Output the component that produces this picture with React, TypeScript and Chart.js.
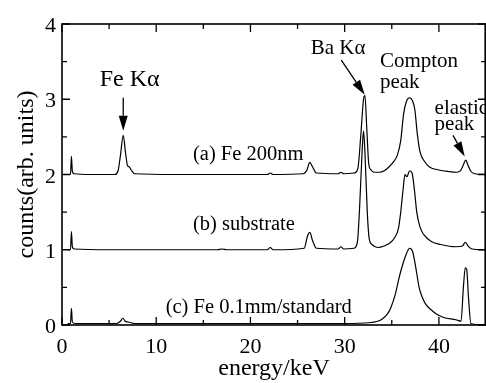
import React, { useEffect, useRef } from "react";
import { Chart, registerables } from "chart.js";

Chart.register(...registerables);

// ---- data (energy in keV, counts in arb. units, each spectrum offset) ----
const energyA = [0.6, 0.9, 1.0, 1.1, 1.3, 3, 5.6, 5.95, 6.2, 6.5, 6.75, 6.95, 7.15, 7.35, 7.7, 12, 18, 21.8, 22.1, 22.4, 25.6, 26.0, 26.3, 26.6, 27.0, 29.3, 29.6, 29.9, 31.0, 31.4, 31.7, 32.0, 32.15, 32.35, 32.55, 32.8, 33.2, 33.7, 34.2, 34.7, 35.2, 35.6, 35.95, 36.25, 36.55, 36.9, 37.2, 37.45, 37.7, 38.0, 38.5, 39.0, 40.0, 41.0, 41.9, 42.3, 42.6, 42.85, 43.1, 43.4, 43.8, 45];
const countsA = [2.0, 2.0, 2.24, 2.04, 2.01, 2.0, 2.0, 2.05, 2.25, 2.52, 2.28, 2.12, 2.1, 2.06, 2.01, 2.0, 2.0, 2.0, 2.02, 2.0, 2.01, 2.06, 2.16, 2.1, 2.02, 2.01, 2.03, 2.01, 2.02, 2.08, 2.5, 3.0, 3.05, 2.6, 2.15, 2.06, 2.03, 2.03, 2.05, 2.1, 2.17, 2.26, 2.45, 2.8, 2.97, 3.02, 2.98, 2.86, 2.55, 2.3, 2.17, 2.1, 2.06, 2.04, 2.03, 2.05, 2.13, 2.19, 2.12, 2.04, 2.01, 2.0];

const energyB = [0.6, 0.9, 1.0, 1.1, 1.3, 5, 10, 16.5, 17, 17.5, 21.8, 22.1, 22.4, 25.7, 26.05, 26.3, 26.6, 27.0, 29.3, 29.6, 29.9, 31.0, 31.35, 31.6, 31.85, 32.0, 32.15, 32.4, 32.6, 32.9, 33.5, 34.2, 34.8, 35.3, 35.7, 35.95, 36.2, 36.4, 36.6, 36.9, 37.15, 37.4, 37.65, 38.0, 38.4, 39.2, 40.2, 41.8, 42.5, 42.8, 43.1, 43.5, 45];
const countsB = [1.0, 1.0, 1.24, 1.04, 1.01, 1.0, 1.0, 1.0, 1.01, 1.0, 1.0, 1.03, 1.0, 1.02, 1.18, 1.23, 1.12, 1.02, 1.01, 1.04, 1.01, 1.02, 1.1, 1.6, 2.3, 2.58, 2.3, 1.5, 1.15, 1.07, 1.03, 1.05, 1.09, 1.16, 1.28, 1.5, 1.8, 2.0, 1.97, 2.05, 2.02, 1.8, 1.5, 1.3, 1.2, 1.11, 1.07, 1.04, 1.05, 1.1, 1.05, 1.01, 1.0];

const energyC = [0.6, 0.9, 1.0, 1.1, 1.4, 5.8, 6.2, 6.45, 6.7, 7.0, 7.3, 7.7, 15, 25, 30, 32.6, 33.5, 34.0, 34.5, 34.9, 35.4, 35.8, 36.2, 36.5, 36.9, 37.2, 37.5, 37.9, 38.3, 38.7, 39.2, 39.7, 40.5, 41.8, 42.35, 42.6, 42.8, 42.95, 43.15, 43.4, 45];
const countsC = [0.02, 0.02, 0.22, 0.04, 0.02, 0.02, 0.05, 0.09, 0.05, 0.04, 0.03, 0.02, 0.02, 0.02, 0.02, 0.03, 0.05, 0.08, 0.14, 0.23, 0.42, 0.64, 0.82, 0.93, 1.02, 0.98, 0.8, 0.5, 0.35, 0.26, 0.2, 0.15, 0.1, 0.07, 0.05, 0.5, 0.76, 0.74, 0.35, 0.02, 0.0];

const xTickLabels = [0, 10, 20, 30, 40];
const yTickLabels = [0, 1, 2, 3, 4];
const xMinorTicks = [5, 15, 25, 35];
const yMinorTicks = [0.5, 1.5, 2.5, 3.5];

const xTitle = "energy/keV";
const yTitle = "counts(arb. units)";

// text annotations: [text, x(keV), y(counts), align, fontSize]
const annotations: [string, number, number, CanvasTextAlign, number][] = [
  ["Fe K\u03b1", 7.18, 3.17, "center", 24],
  ["Ba K\u03b1", 26.4, 3.6, "left", 21],
  ["Compton", 33.74, 3.43, "left", 21],
  ["peak", 33.74, 3.15, "left", 21],
  ["elastic", 39.54, 2.8, "left", 21],
  ["peak", 39.54, 2.59, "left", 21],
  ["(a) Fe 200nm", 13.9, 2.19, "left", 20.5],
  ["(b) substrate", 13.9, 1.26, "left", 20.5],
  ["(c) Fe 0.1mm/standard", 11.0, 0.16, "left", 20.5],
];

// arrows: [fromX, fromY, tipX, tipY]
const arrows: [number, number, number, number][] = [
  [6.5, 3.02, 6.5, 2.58],
  [29.64, 3.52, 32.13, 3.06],
  [41.5, 2.52, 42.74, 2.24],
];

const FONT = "'Liberation Serif', 'Times New Roman', Times, serif";

const toPoints = (xs: number[], ys: number[]) => xs.map((x, i) => ({ x, y: ys[i] }));

const decorPlugin = {
  id: "decor",
  afterDraw(chart: any) {
    const ctx: CanvasRenderingContext2D = chart.ctx;
    const xs = chart.scales.x;
    const ys = chart.scales.y;
    const { left, right, top, bottom } = chart.chartArea;
    ctx.save();
    ctx.strokeStyle = "#000";
    ctx.fillStyle = "#000";
    // frame
    ctx.lineWidth = 1.6;
    ctx.strokeRect(left, top, right - left - 0.8, bottom - top);
    // ticks
    ctx.lineWidth = 1.3;
    const major = 8;
    const minor = 5;
    const vtick = (v: number, len: number) => {
      const px = xs.getPixelForValue(v);
      ctx.beginPath();
      ctx.moveTo(px, bottom);
      ctx.lineTo(px, bottom - len);
      ctx.moveTo(px, top);
      ctx.lineTo(px, top + len);
      ctx.stroke();
    };
    const htick = (v: number, len: number) => {
      const py = ys.getPixelForValue(v);
      ctx.beginPath();
      ctx.moveTo(left, py);
      ctx.lineTo(left + len, py);
      ctx.moveTo(right, py);
      ctx.lineTo(right - len, py);
      ctx.stroke();
    };
    xTickLabels.forEach((v) => vtick(v, major));
    xMinorTicks.forEach((v) => vtick(v, minor));
    yTickLabels.forEach((v) => htick(v, major));
    yMinorTicks.forEach((v) => htick(v, minor));

    // tick labels
    ctx.font = `22px ${FONT}`;
    ctx.textAlign = "center";
    ctx.textBaseline = "alphabetic";
    xTickLabels.forEach((v) => {
      ctx.fillText(String(v), xs.getPixelForValue(v), bottom + 28);
    });
    ctx.textAlign = "right";
    yTickLabels.forEach((v) => {
      ctx.fillText(String(v), left - 6, ys.getPixelForValue(v) + 8);
    });

    // axis titles
    ctx.font = `24px ${FONT}`;
    ctx.textAlign = "center";
    ctx.fillText(xTitle, (left + right) / 2, bottom + 50);
    ctx.save();
    ctx.translate(33, (top + bottom) / 2);
    ctx.rotate(-Math.PI / 2);
    ctx.fillText(yTitle, 0, 0);
    ctx.restore();

    // annotations
    annotations.forEach(([t, x, y, align, size]) => {
      ctx.font = `${size}px ${FONT}`;
      ctx.textAlign = align;
      ctx.fillText(t, xs.getPixelForValue(x), ys.getPixelForValue(y));
    });

    // arrows
    arrows.forEach(([x1, y1, x2, y2]) => {
      const ax = xs.getPixelForValue(x1);
      const ay = ys.getPixelForValue(y1);
      const bx = xs.getPixelForValue(x2);
      const by = ys.getPixelForValue(y2);
      const ang = Math.atan2(by - ay, bx - ax);
      const hl = 15;
      const hw = 4.5;
      const cx = bx - hl * Math.cos(ang);
      const cy = by - hl * Math.sin(ang);
      ctx.lineWidth = 1.3;
      ctx.beginPath();
      ctx.moveTo(ax, ay);
      ctx.lineTo(cx, cy);
      ctx.stroke();
      ctx.beginPath();
      ctx.moveTo(bx, by);
      ctx.lineTo(cx - hw * Math.sin(ang), cy + hw * Math.cos(ang));
      ctx.lineTo(cx + hw * Math.sin(ang), cy - hw * Math.cos(ang));
      ctx.closePath();
      ctx.fill();
    });
    ctx.restore();
  },
};

export default function App() {
  const ref = useRef<HTMLCanvasElement | null>(null);
  useEffect(() => {
    if (!ref.current) return;
    const ds = (xs: number[], ys: number[]) => ({
      data: toPoints(xs, ys),
      borderColor: "#000",
      borderWidth: 1.2,
      pointRadius: 0,
      fill: false,
      cubicInterpolationMode: "monotone" as const,
    });
    const chart = new Chart(ref.current, {
      type: "line",
      data: {
        datasets: [ds(energyA, countsA), ds(energyB, countsB), ds(energyC, countsC)],
      },
      options: {
        animation: false,
        responsive: false,
        devicePixelRatio: 1,
        layout: { padding: { top: 24, right: 0, left: 0, bottom: 0 } },
        plugins: { legend: { display: false }, tooltip: { enabled: false } },
        scales: {
          x: {
            type: "linear",
            min: 0,
            max: 45,
            grid: { display: false },
            border: { display: false },
            ticks: { display: false },
            afterFit: (s: any) => {
              s.height = 58;
            },
          },
          y: {
            min: 0,
            max: 4,
            grid: { display: false },
            border: { display: false },
            ticks: { display: false },
            afterFit: (s: any) => {
              s.width = 62;
            },
          },
        },
      },
      plugins: [decorPlugin],
    });
    return () => chart.destroy();
  }, []);
  return (
    <div style={{ position: "absolute", left: 0, top: 0, width: 486, height: 383, background: "#fff" }}>
      <canvas ref={ref} width={486} height={383} />
    </div>
  );
}
